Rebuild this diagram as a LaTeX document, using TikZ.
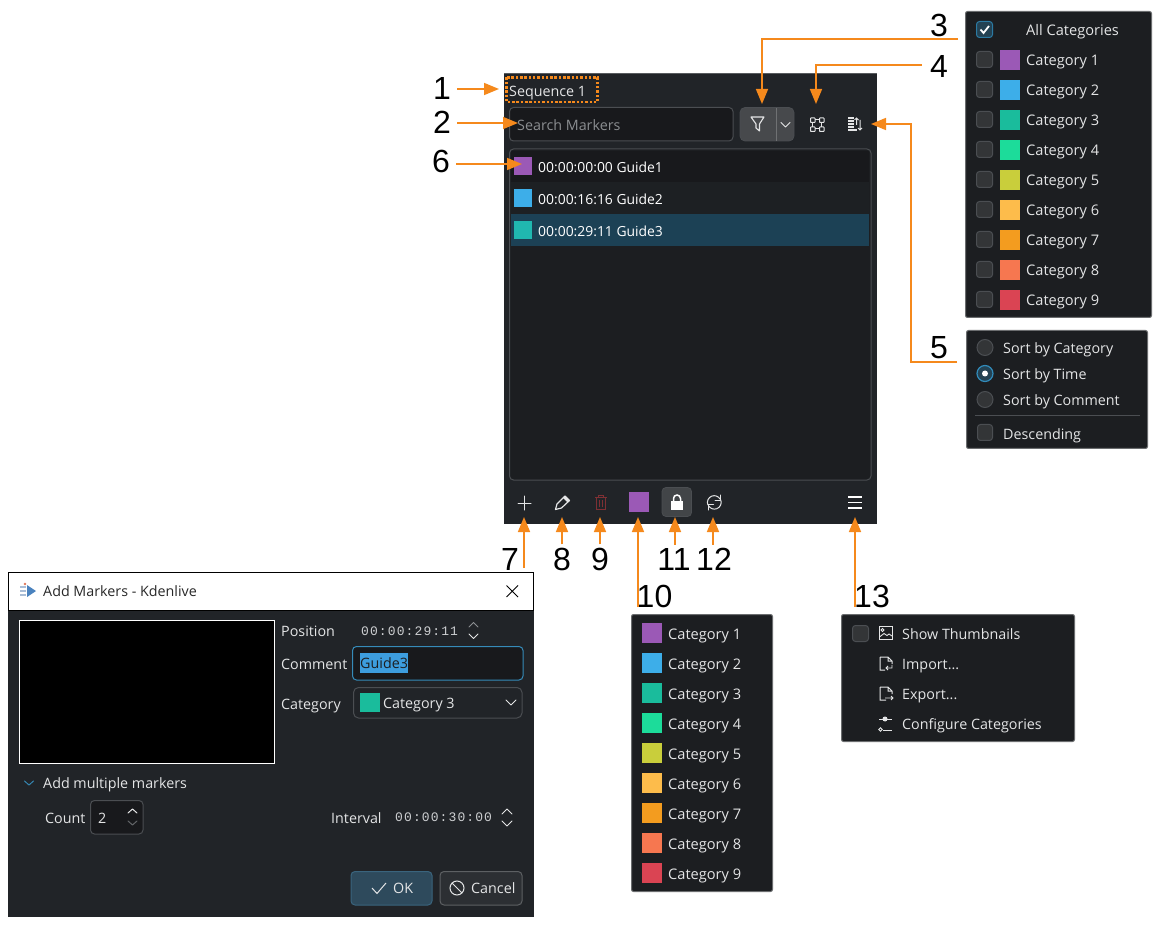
\documentclass[tikz,border=0pt]{standalone}
\usepackage{fontspec}
\setmainfont{Open Sans}
\newfontfamily\numfont{Liberation Sans}
\newfontfamily\tcfont[LetterSpace=8.5]{Liberation Mono}
\usetikzlibrary{arrows.meta,calc}
\definecolor{panelbg}{HTML}{212428}
\definecolor{menubg}{HTML}{1C1E21}
\definecolor{fieldbg}{HTML}{18191C}
\definecolor{edge}{HTML}{4B4E52}
\definecolor{uitext}{HTML}{E4E5E6}
\definecolor{tctext}{HTML}{CDCFD1}
\definecolor{dimtext}{HTML}{8B8E91}
\definecolor{orangeline}{HTML}{F5891C}
\definecolor{accent}{HTML}{3DAEE9}
\definecolor{rowsel}{HTML}{1C4155}
\definecolor{cGuide}{HTML}{20B8B0}
\definecolor{trashred}{HTML}{7E3034}
\definecolor{selblue}{HTML}{3D9DDE}
\definecolor{okfill}{HTML}{2E4A5C}
\definecolor{okedge}{HTML}{3A647D}
\definecolor{titletext}{HTML}{282828}
\definecolor{logoblue}{HTML}{4A82BE}
\definecolor{logogrey}{HTML}{AABED7}
\definecolor{logored}{HTML}{E1785A}
\definecolor{cOne}{HTML}{9B59B6}
\definecolor{cTwo}{HTML}{3DAEE9}
\definecolor{cThree}{HTML}{1ABC9C}
\definecolor{cFour}{HTML}{1CDC9A}
\definecolor{cFive}{HTML}{C9CE3B}
\definecolor{cSix}{HTML}{FDBC4B}
\definecolor{cSeven}{HTML}{F39C1F}
\definecolor{cEight}{HTML}{F67750}
\definecolor{cNine}{HTML}{DA4453}
\tikzset{
  x=1pt,y=-1pt,
  num/.style={font=\numfont\fontsize{32}{32}\selectfont,text=black,inner sep=0pt},
  ui/.style={font=\fontsize{14.3}{16}\selectfont,text=uitext,anchor=west,inner sep=0pt,text height=11pt,text depth=3pt},
  uicat/.style={ui,font=\fontsize{14.6}{16}\selectfont},
  uirow/.style={ui,font=\fontsize{13.9}{16}\selectfont,text=white},
  tc/.style={font=\tcfont\fontsize{13}{16}\selectfont,text=tctext,anchor=west,inner sep=0pt,text height=10pt,text depth=1pt},
  arr/.style={draw=orangeline,line width=1.6pt,-{Triangle[length=15pt,width=12pt,fill=orangeline]}},
  menubox/.style={draw=white!35!menubg,fill=menubg,line width=1pt,rounded corners=2pt},
  fieldbox/.style={draw=edge,fill=fieldbg,line width=1pt,rounded corners=4pt},
  ticon/.style={draw=uitext,line width=1.1pt,line cap=round,line join=round},
  chev/.style={draw=#1,line width=1pt,line cap=round,line join=round},
  chev/.default=uitext,
  unchecked/.style={draw=edge,fill=white!10!menubg,line width=1pt,rounded corners=3pt},
  radio/.style={draw=edge,fill=white!10!menubg,line width=1pt},
}
\begin{document}
\begin{tikzpicture}
\useasboundingbox (0,0) rectangle (1163,925);
\fill[white] (0,0) rectangle (1163,925);

% main panel
\fill[panelbg] (504,73) rectangle (877,524);
\draw[white!25!panelbg,line width=1pt] (504,73.5) -- (877,73.5);
\node[ui] (seqtext) at (509,93) {Sequence 1};
\draw[orangeline,line width=2.8pt,dash pattern=on 2.5pt off 1.8pt] (506.5,77.5) rectangle (597.5,102);
\coordinate (seqtip) at (499,89);
\draw[fieldbox] (509.5,107.5) rectangle (733,141);
\node[ui,text=dimtext] (searchtext) at (517,126.5) {Search Markers};
\coordinate (searchtip) at (518,123);
\fill[white!17!panelbg,draw=edge,line width=.8pt,rounded corners=5pt] (740,107.5) rectangle (794,141);
\draw[white!35!panelbg,line width=1pt] (776.5,108) -- (776.5,141);
% filter icon
\draw[ticon] (751,117) -- (764,117) -- (759.5,124) -- (759.5,131) -- (756,128) -- (756,124) -- cycle;
\coordinate (filtertip) at (762,104);
\draw[chev] (781,122.5) -- (785.5,127) -- (790,122.5);
% focus icon
\foreach \a/\b in {810.5/118,819.5/118,810.5/127,819.5/127}{\draw[draw=uitext,line width=1pt,rounded corners=.5pt] (\a,\b) rectangle ++(4.5,4.5);}
\draw[uitext,line width=1pt] (815,120) -- (819.5,120) (815,129) -- (819.5,129) (812.5,122.5) -- (812.5,127) (821.5,122.5) -- (821.5,127);
\coordinate (focustip) at (816,104);
% sort icon
\draw[draw=uitext,line width=1.1pt] (848,118) -- (854,118) (848,121) -- (854,121) (848,124) -- (854,124) (848,127) -- (854,127) (848,130) -- (857,130);
\draw[draw=uitext,line width=1pt] (856.5,125) -- (856.5,118) (854.5,120) -- (856.5,118) -- (858.5,120);
\draw[draw=uitext,line width=1pt] (860,120) -- (860,130) (858,128) -- (860,130) -- (862,128);
\coordinate (sorttip) at (871,124);

% marker list
\draw[fieldbox,fill=menubg] (509.5,149) rectangle (871,480);
\fill[fieldbg] (511,151) rectangle (869,182);
\fill[panelbg!60!fieldbg] (511,182) rectangle (869,214);
\fill[rowsel] (511,214) rectangle (869,246);
\fill[cOne] (514,157) rectangle (532,175);
\fill[cTwo] (514,189) rectangle (532,207);
\fill[cGuide] (514,221) rectangle (532,239);
\coordinate (markertip) at (522,164);
\node[uirow] (m1) at (538,168.5) {00:00:00:00 Guide1};
\node[uirow] (m2) at (538,200.5) {00:00:16:16 Guide2};
\node[uirow] (m3) at (538,232.5) {00:00:29:11 Guide3};

% toolbar icons
\draw[ticon,line width=1pt] (524.5,496) -- (524.5,510) (518,503) -- (531,503);
\coordinate (addtip) at (524,517);
\draw[ticon,line width=1.2pt] (555.5,509.5) -- (557,504) -- (565,496) -- (569.5,500.5) -- (561.5,508) -- cycle;
\fill[uitext] (563,498) -- (565,496) -- (569.5,500.5) -- (567.5,502.5) -- cycle;
\coordinate (edittip) at (562,517);
\draw[draw=trashred,line width=1.5pt] (595,497.5) -- (607,497.5) (598.5,497) -- (598.5,495.5) -- (603.5,495.5) -- (603.5,497) (596.5,498) -- (596.5,509.5) -- (605.5,509.5) -- (605.5,498);
\draw[draw=trashred,line width=.9pt] (599.7,500) -- (599.7,507) (602.3,500) -- (602.3,507);
\coordinate (deltip) at (600,517);
\fill[cOne] (629,492) rectangle (649,512);
\coordinate (coltip) at (638,517);
\fill[white!15!panelbg,draw=edge,line width=.8pt,rounded corners=4pt] (662,487.5) rectangle (691.5,516.5);
\fill[white] (671,501) rectangle (683,510);
\draw[white,line width=1.5pt] (673.5,501) -- (673.5,498.5) arc[start angle=180,end angle=360,radius=3.5] -- (680.5,501);
\coordinate (locktip) at (675,517);
\draw[ticon,line width=1pt] (707.8,504.8) arc[start angle=160,end angle=330,radius=6.8];
\draw[ticon,line width=1pt] (720.8,500) arc[start angle=-20,end angle=150,radius=6.8];
\draw[ticon,line width=1pt] (720.5,495) -- (720.5,500.5) -- (715,500.5) (708,510) -- (708,504.5) -- (713.5,504.5);
\coordinate (refreshtip) at (713,517);
\draw[draw=white,line width=1.7pt] (848,497) -- (862,497) (848,502.5) -- (862,502.5) (848,508) -- (862,508);
\coordinate (menutip) at (855,517);

% numbers
\node[num] (n1) at (442,88) {1};
\node[num] (n2) at (442,122) {2};
\node[num] (n6) at (441,161) {6};
\node[num] (n3) at (939,25) {3};
\node[num] (n4) at (939,66) {4};
\node[num] (n5) at (939,348) {5};
\node[num] (n7) at (510,559) {7};
\node[num] (n8) at (562,559) {8};
\node[num] (n9) at (600,559) {9};
\node[num] (n10) at (654.5,596) {10};
\node[num] (n11) at (674,559) {11};
\node[num] (n12) at (714,559) {12};
\node[num] (n13) at (872,596) {13};

% category filter menu
\draw[menubox] (965.5,11.5) rectangle (1151.5,317.5);
\draw[draw=accent!70!black,fill=accent!25!menubg,line width=1pt,rounded corners=3pt] (976.5,21.5) rectangle (992.5,37.5);
\draw[white,line width=1.8pt] (980.5,29.5) -- (983.5,33) -- (989,26);
\node[uicat] (fall) at (1026,32) {All Categories};
\foreach \i/\c in {1/cOne,2/cTwo,3/cThree,4/cFour,5/cFive,6/cSix,7/cSeven,8/cEight,9/cNine}{
  \pgfmathsetmacro\yy{30+30*\i}
  \draw[unchecked] (976.5,\yy-8.5) rectangle (992.5,\yy+7.5);
  \fill[\c] (1000,\yy-10) rectangle (1020,\yy+10);
  \node[uicat] (f\i) at (1026,\yy+2) {Category \i};
}
\coordinate (filtertail) at (958,39);
\coordinate (filterbend) at (762,39);

% sort menu
\draw[menubox] (966.5,330.5) rectangle (1147.5,448.5);
\draw[radio] (985,347.5) circle (8);
\draw[draw=accent!80!black,fill=accent!25!menubg,line width=1.2pt] (985,373.5) circle (8);
\fill[white] (985,373.5) circle (3);
\draw[radio] (985,399.5) circle (8);
\node[ui] (s1) at (1003,350) {Sort by Category};
\node[ui] (s2) at (1003,376) {Sort by Time};
\node[ui] (s3) at (1003,402) {Sort by Comment};
\draw[edge,line width=1pt] (975,415.5) -- (1140,415.5);
\draw[unchecked] (977.5,424.5) rectangle (992.5,440.5);
\node[ui] (s4) at (1003,435) {Descending};
\coordinate (sorttail) at (957,362);
\coordinate (sortbend) at (911,362);
\coordinate (sortbendb) at (911,124);

% category picker menu
\draw[menubox] (631.5,614.5) rectangle (772.5,891.5);
\foreach \i/\c in {1/cOne,2/cTwo,3/cThree,4/cFour,5/cFive,6/cSix,7/cSeven,8/cEight,9/cNine}{
  \pgfmathsetmacro\yy{603+30*\i}
  \fill[\c] (642,\yy-10) rectangle (662,\yy+10);
  \node[uicat] (p\i) at (668,\yy+2) {Category \i};
}
\coordinate (coltail) at (638,607);

% options menu
\draw[menubox] (841.5,614.5) rectangle (1074.5,741.5);
\draw[unchecked] (852.5,625.5) rectangle (868.5,641.5);
\draw[draw=uitext,line width=1pt] (879,626.5) rectangle (892,639.5);
\draw[draw=uitext,line width=.9pt] (882.5,630) circle (1.6) (879.5,637) -- (884,633.5) -- (887,635.5) -- (889,634) -- (892,636);
\node[ui] (o1) at (902,635) {Show Thumbnails};
\draw[draw=uitext,line width=1pt] (880,657) -- (888,657) -- (892,661) -- (892,664) (885,670) -- (880,670) -- (880,657) (888,657) -- (888,661) -- (892,661);
\draw[draw=uitext,line width=.9pt] (892,665) -- (892,668) -- (886,668) (888,666) -- (886,668) -- (888,670);
\node[ui] (o2) at (902,665) {Import...};
\draw[draw=uitext,line width=1pt] (880,687) -- (888,687) -- (892,691) -- (892,694) (886,700) -- (880,700) -- (880,687) (888,687) -- (888,691) -- (892,691);
\draw[draw=uitext,line width=.9pt] (885,698) -- (893,698) (891,696) -- (893,698) -- (891,700);
\node[ui] (o3) at (902,695) {Export...};
\draw[draw=uitext,line width=1pt] (879,719) -- (892,719) (883,730) -- (892,730);
\fill[uitext] (885,719) circle (2.5);
\draw[draw=uitext,line width=.9pt] (880.5,729.5) circle (1.8);
\node[ui] (o4) at (902,725) {Configure Categories};
\coordinate (menutail) at (855,607);

% dialog
\fill[panelbg] (8,572) rectangle (534,917);
\draw[black,line width=1pt,fill=white] (8.5,572.5) rectangle (533.5,610);
\fill[logoblue] (27,585) -- (36,591) -- (27,597) -- cycle;
\draw[logogrey,line width=1.3pt] (20,587) -- (26,587) (20,591) -- (26,591) (20,595) -- (26,595);
\fill[logored] (25,584) circle (1.3);
\node[ui,text=titletext] (dtitle) at (43,592) {Add Markers - Kdenlive};
\draw[black,line width=1pt] (506.5,585.5) -- (518,597) (518,585.5) -- (506.5,597);
\draw[white,fill=black,line width=1pt] (19.5,620.5) rectangle (274.5,763.5);
\node[ui] (lpos) at (281,632) {Position};
\node[tc] (vpos) at (361,631) {00:00:29:11};
\draw[chev=dimtext,line width=.9pt] (469,627) -- (473.5,622.5) -- (478,627);
\draw[chev=uitext,line width=.9pt] (469,634) -- (473.5,638.5) -- (478,634);
\node[ui] (lcom) at (281,665) {Comment};
\draw[draw=accent!75!panelbg,fill=fieldbg,line width=1pt,rounded corners=4pt] (352.5,646.5) rectangle (523,680);
\fill[selblue] (360,653) rectangle (407.5,673);
\node[ui,text=menubg] (vcom) at (360,664) {Guide3};
\node[ui] (lcat) at (281,705) {Category};
\draw[draw=edge,fill=panelbg,line width=1pt,rounded corners=5pt] (353.5,687.5) rectangle (522,718);
\fill[cThree] (360,693) rectangle (380,712);
\node[ui] (vcat) at (383,704.5) {Category 3};
\draw[chev] (506,700) -- (511,705) -- (516,700);
\draw[chev=accent!70!panelbg] (24.5,781) -- (29,785) -- (33.5,781);
\node[ui] (lmul) at (43,784) {Add multiple markers};
\node[ui] (lcnt) at (45,819) {Count};
\draw[fieldbox] (90.5,800.5) rectangle (143,834);
\node[ui] (vcnt) at (98,819) {2};
\draw[chev=uitext] (128,813) -- (132.5,809) -- (137,813);
\draw[chev=dimtext!60!panelbg] (128,821) -- (132.5,825) -- (137,821);
\node[ui] (lint) at (331,819) {Interval};
\node[tc] (vint) at (395,817) {00:00:30:00};
\draw[chev=uitext,line width=.9pt] (502,814) -- (507,809) -- (512,814);
\draw[chev=uitext,line width=.9pt] (502,821) -- (507,826) -- (512,821);
\draw[draw=okedge,fill=okfill,line width=1pt,rounded corners=4pt] (351,871.5) rectangle (432,905);
\draw[uitext,line width=1pt] (372,888) -- (377,893.5) -- (386,883);
\node[ui] (bok) at (393,889) {OK};
\draw[draw=edge!90!white,fill=white!5!panelbg,line width=1pt,rounded corners=4pt] (440,871.5) rectangle (522,905);
\draw[uitext,line width=1pt] (457,888) circle (7) (452,883) -- (462,893);
\node[ui] (bcan) at (471,889) {Cancel};
\coordinate (addtail) at (524,568);

% connectors
\draw[arr,shorten <=6pt] (n1.east |- seqtip) -- (seqtip);
\draw[arr,shorten <=6pt] (n2.east |- searchtip) -- (searchtip);
\draw[arr,shorten <=6pt] (n6.east |- markertip) -- (markertip);
\draw[arr] (filtertail) -- (filterbend) -- (filtertip);
\draw[arr,shorten <=8pt] (n4.west |- 0,65) -- (816,65) -- (focustip);
\draw[arr] (sorttail) -- (sortbend) -- (sortbendb) -- (sorttip);
\draw[arr] (addtail) -- (addtip);
\draw[arr,shorten <=3pt] (n8.north -| edittip) -- (edittip);
\draw[arr,shorten <=3pt] (n9.north -| deltip) -- (deltip);
\draw[arr] (coltail) -- (coltip);
\draw[arr,shorten <=3pt] (n11.north -| locktip) -- (locktip);
\draw[arr,shorten <=3pt] (n12.north -| refreshtip) -- (refreshtip);
\draw[arr] (menutail) -- (menutip);
\end{tikzpicture}
\end{document}
